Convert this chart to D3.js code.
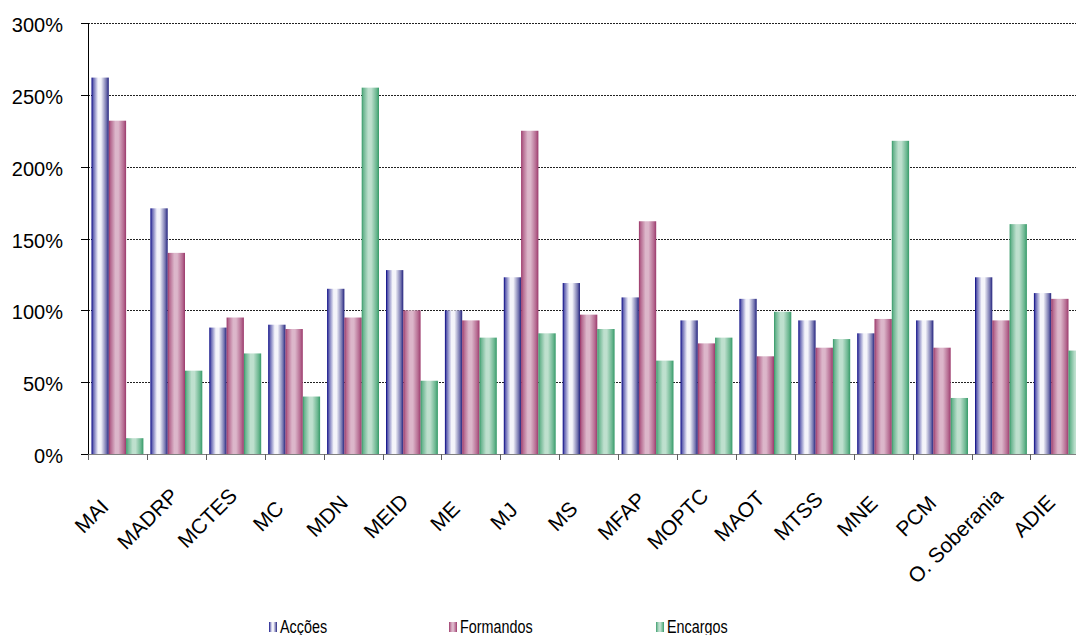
<!DOCTYPE html>
<html>
<head>
<meta charset="utf-8">
<script src="https://cdn.jsdelivr.net/npm/d3@7/dist/d3.min.js"></script>
<style>
  body { margin: 0; background: #fff; }
  svg { display: block; font-family: Arial, "Liberation Sans", sans-serif; }
</style>
</head>
<body>
<div id="chart"></div>
<script>
// Chart data
const categories = ["MAI", "MADRP", "MCTES", "MC", "MDN", "MEID", "ME", "MJ", "MS",
    "MFAP", "MOPTC", "MAOT", "MTSS", "MNE", "PCM", "O. Soberania", "ADIE"];
const seriesNames = ["Acções", "Formandos", "Encargos"];
const accoes    = [262, 171, 88, 90, 115, 128, 100, 123, 119, 109, 93, 108, 93, 84, 93, 123, 112];
const formandos = [232, 140, 95, 87, 95, 100, 93, 225, 97, 162, 77, 68, 74, 94, 74, 93, 108];
const encargos  = [11, 58, 70, 40, 255, 51, 81, 84, 87, 65, 81, 99, 80, 218, 39, 160, 72];
const yTicks = [0, 50, 100, 150, 200, 250, 300];

const width = 1076, height = 635;
// plot runs past the right edge of the picture (last group is cut off)
const plot = {left: 88, top: 23, bottom: 454, step: 58.9};
const plotRight = plot.left + plot.step * categories.length;

// dark / light colours of the cylinder-like fills
const palette = [
    {dark: "#000080", light: "#f4f4fa", right: "#22227e"},
    {dark: "#993366", light: "#dcb6ca", right: "#9c3a6c"},
    {dark: "#339966", light: "#bee0ce", right: "#369b69"}
];

let svg = d3.select("#chart").append("svg")
    .attr("width", width)
    .attr("height", height);

// horizontal gradients for bars
let defs = svg.append("defs");
palette.forEach(function(c, i) {
    let g = defs.append("linearGradient")
        .attr("id", `grad-${i}`)
        .attr("x1", "0%").attr("x2", "100%")
        .attr("y1", "0%").attr("y2", "0%");
    g.append("stop").attr("offset", "0%").attr("stop-color", c.dark);
    g.append("stop").attr("offset", "10%").attr("stop-color", d3.interpolateRgb(c.dark, c.light)(0.4));
    g.append("stop").attr("offset", "38%").attr("stop-color", c.light);
    g.append("stop").attr("offset", "55%").attr("stop-color", c.light);
    g.append("stop").attr("offset", "85%").attr("stop-color", d3.interpolateRgb(c.right, c.light)(0.4));
    g.append("stop").attr("offset", "100%").attr("stop-color", c.right);
});

// Scales
let x0 = d3.scaleBand()
    .domain(categories)
    .range([plot.left, plotRight])
    .padding(0);
let x1 = d3.scaleBand()
    .domain(seriesNames)
    .range([3.5, plot.step - 3.5])
    .padding(0);
let y = d3.scaleLinear()
    .domain([0, 300])
    .range([plot.bottom, plot.top]);

// Gridlines
svg.append("g")
    .selectAll("line")
    .data(yTicks.filter(function(d) { return d > 0; }))
    .enter().append("line")
    .attr("x1", plot.left)
    .attr("x2", plotRight)
    .attr("y1", function(d) { return Math.round(y(d)) + 0.5; })
    .attr("y2", function(d) { return Math.round(y(d)) + 0.5; })
    .attr("stroke", "#222")
    .attr("stroke-width", 1.2)
    .attr("stroke-dasharray", "2,1");

// Bars
let rows = categories.map(function(c, i) {
    return {cat: c, values: [accoes[i], formandos[i], encargos[i]]};
});
let groups = svg.append("g")
    .selectAll("g")
    .data(rows)
    .enter().append("g")
    .attr("transform", function(d) { return `translate(${x0(d.cat)},0)`; });
groups.selectAll("rect")
    .data(function(d) { return d.values.map(function(v, j) { return {s: j, v: v}; }); })
    .enter().append("rect")
    .attr("x", function(d) { return x1(seriesNames[d.s]); })
    .attr("width", x1.bandwidth())
    .attr("y", function(d) { return y(d.v); })
    .attr("height", function(d) { return y(0) - y(d.v); })
    .attr("fill", function(d) { return `url(#grad-${d.s})`; });

// X axis (gray line with ticks at category boundaries)
let xAxis = svg.append("g");
xAxis.append("line")
    .attr("x1", plot.left).attr("x2", plotRight)
    .attr("y1", plot.bottom + 0.5).attr("y2", plot.bottom + 0.5)
    .attr("stroke", "#808080");
xAxis.selectAll("line.tick")
    .data(categories)
    .enter().append("line")
    .attr("class", "tick")
    .attr("x1", function(d) { return Math.round(x0(d)) + 0.5; })
    .attr("x2", function(d) { return Math.round(x0(d)) + 0.5; })
    .attr("y1", plot.bottom)
    .attr("y2", plot.bottom + 6)
    .attr("stroke", "#606060");

// Rotated category labels
let labels = xAxis.selectAll("text")
    .data(categories)
    .enter().append("text")
    .attr("font-size", 21)
    .attr("fill", "#000")
    .attr("text-anchor", "middle")
    .attr("dy", "0.35em")
    .text(function(d) { return d; });
labels.attr("transform", function(d) {
    // short labels are centred in a minimum-width slot
    let len = Math.max(this.getComputedTextLength(), 68);
    let ex = x0(d) + plot.step / 2 - 2, ey = 492;
    let cx = ex - len / 2 * Math.SQRT1_2, cy = ey + len / 2 * Math.SQRT1_2;
    return `translate(${cx},${cy}) rotate(-45)`;
});

// Y axis
let yAxis = svg.append("g");
yAxis.append("line")
    .attr("x1", plot.left + 0.5).attr("x2", plot.left + 0.5)
    .attr("y1", plot.top).attr("y2", plot.bottom)
    .attr("stroke", "#000");
yAxis.selectAll("line.tick")
    .data(yTicks)
    .enter().append("line")
    .attr("class", "tick")
    .attr("x1", plot.left - 7).attr("x2", plot.left)
    .attr("y1", function(d) { return Math.round(y(d)) + 0.5; })
    .attr("y2", function(d) { return Math.round(y(d)) + 0.5; })
    .attr("stroke", "#000");
yAxis.selectAll("text")
    .data(yTicks)
    .enter().append("text")
    .attr("x", 63)
    .attr("y", function(d) { return y(d) + 2; })
    .attr("dy", "0.35em")
    .attr("text-anchor", "end")
    .attr("font-size", 20)
    .text(function(d) { return d + "%"; });

// Legend
const legendX = [269, 449, 656];
let legend = svg.append("g")
    .selectAll("g")
    .data(seriesNames)
    .enter().append("g")
    .attr("transform", function(d, i) { return `translate(${legendX[i]},622)`; });
legend.append("rect")
    .attr("width", 8)
    .attr("height", 10)
    .attr("fill", function(d, i) { return `url(#grad-${i})`; });
legend.append("text")
    .attr("transform", "translate(11,11) scale(0.82,1)")
    .attr("font-size", 17.5)
    .text(function(d) { return d; });
</script>
</body>
</html>
